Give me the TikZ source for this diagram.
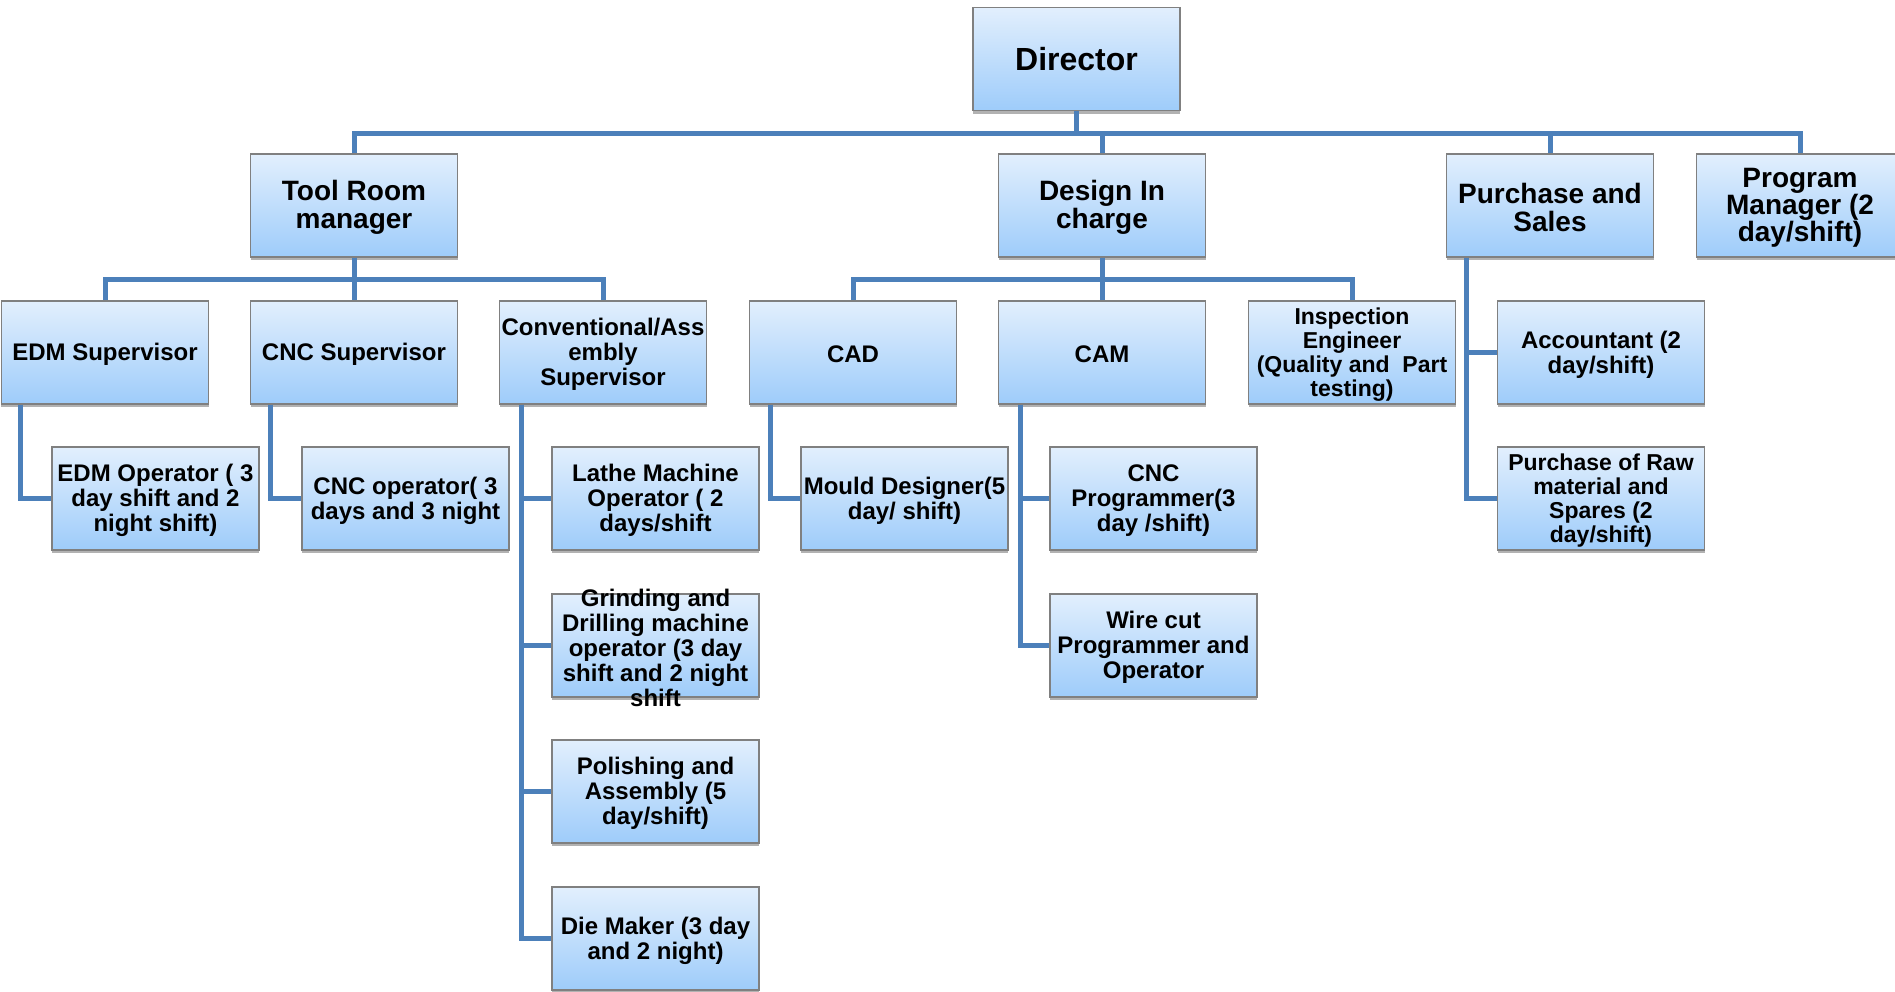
\documentclass[tikz,border=0pt]{standalone}
\usepackage{fontspec}
\setmainfont{Liberation Sans}
\usetikzlibrary{shadows,calc}
\definecolor{boxtop}{RGB}{226,239,253}
\definecolor{boxbot}{RGB}{158,204,250}
\definecolor{boxline}{RGB}{128,128,128}
\definecolor{conn}{RGB}{76,128,186}
\tikzset{
 orgbox/.style={draw=boxline, line width=1.2bp, top color=boxtop, bottom color=boxbot,
   minimum width=207bp, minimum height=103bp, inner sep=0pt,
   drop shadow={shadow xshift=0bp, shadow yshift=-3bp, opacity=0.3, fill=black}},
 txtbase/.style={align=center, inner sep=0pt, yshift=-2bp},
 txt/.style={txtbase, font=\bfseries\fontsize{24bp}{25bp}\selectfont},
 txts/.style={txtbase, font=\bfseries\fontsize{23bp}{24bp}\selectfont},
 txtl/.style={txtbase, font=\bfseries\fontsize{28bp}{28bp}\selectfont},
 txtp/.style={txtbase, font=\bfseries\fontsize{28bp}{25bp}\selectfont},
 txtd/.style={align=center, inner sep=0pt, font=\bfseries\fontsize{32bp}{32bp}\selectfont},
 link/.style={draw=conn, line width=5bp},
}
\newcommand\obox[5]{\node[orgbox] (#1) at (#2,#3) {}; \node[#5] (#1t) at (#1.center) {#4};}
\begin{document}
\begin{tikzpicture}[x=1bp,y=-1bp]
\useasboundingbox (0,0) rectangle (1895,991);
% level 0
\obox{dir}{1076.5}{59}{Director}{txtd}
% level 1
\obox{trm}{354}{205.5}{Tool Room\\manager}{txtl}
\obox{des}{1102}{205.5}{Design In\\charge}{txtl}
\obox{pur}{1550}{205.5}{Purchase and\\Sales}{txtl}
\obox{prg}{1800}{205.5}{Program\\Manager (2\\day/shift)}{txtp}
% level 2
\obox{edms}{105}{352.5}{EDM Supervisor}{txt}
\obox{cncs}{354}{352.5}{CNC Supervisor}{txt}
\obox{conv}{603}{352.5}{Conventional/Ass\\embly\\Supervisor}{txt}
\obox{cad}{853}{352.5}{CAD}{txt}
\obox{cam}{1102}{352.5}{CAM}{txt}
\obox{insp}{1352}{352.5}{Inspection\\Engineer\\(Quality and\ \ Part\\testing)}{txts}
\obox{acc}{1601}{352.5}{Accountant (2\\day/shift)}{txt}
% level 3
\obox{edmo}{155.5}{498.5}{EDM Operator ( 3\\day shift and 2\\night shift)}{txt}
\obox{cnco}{405.5}{498.5}{CNC operator( 3\\days and 3 night}{txt}
\obox{lathe}{655.5}{498.5}{Lathe Machine\\Operator ( 2\\days/shift}{txt}
\obox{mould}{904.5}{498.5}{Mould Designer(5\\day/ shift)}{txt}
\obox{cncp}{1153.5}{498.5}{CNC\\Programmer(3\\day /shift)}{txt}
\obox{raw}{1601}{498.5}{Purchase of Raw\\material and\\Spares (2\\day/shift)}{txts}
% lower levels
\obox{grind}{655.5}{645.5}{Grinding and\\Drilling machine\\operator (3 day\\shift and 2 night\\shift}{txt}
\obox{wire}{1153.5}{645.5}{Wire cut\\Programmer and\\Operator}{txt}
\obox{polish}{655.5}{791.5}{Polishing and\\Assembly (5\\day/shift)}{txt}
\obox{die}{655.5}{938.5}{Die Maker (3 day\\and 2 night)}{txt}
% connectors
\draw[link] (dir.south) -- ++(0,22) -| (trm.north);
\draw[link] (dir.south) -- ++(0,22) -| (des.north);
\draw[link] (dir.south) -- ++(0,22) -| (pur.north);
\draw[link] (dir.south) -- ++(0,22) -| (prg.north);
\draw[link] (trm.south) -- ++(0,22) -| (edms.north);
\draw[link] (trm.south) -- ++(0,22) -| (cncs.north);
\draw[link] (trm.south) -- ++(0,22) -| (conv.north);
\draw[link] (des.south) -- ++(0,22) -| (cad.north);
\draw[link] (des.south) -- ++(0,22) -| (cam.north);
\draw[link] (des.south) -- ++(0,22) -| (insp.north);
\draw[link] ($(edms.south west)+(20,0)$) |- (edmo.west);
\draw[link] ($(cncs.south west)+(21,0)$) |- (cnco.west);
\draw[link] ($(conv.south west)+(23,0)$) |- (lathe.west);
\draw[link] ($(conv.south west)+(23,0)$) |- (grind.west);
\draw[link] ($(conv.south west)+(23,0)$) |- (polish.west);
\draw[link] ($(conv.south west)+(23,0)$) |- (die.west);
\draw[link] ($(cad.south west)+(22,0)$) |- (mould.west);
\draw[link] ($(cam.south west)+(23,0)$) |- (cncp.west);
\draw[link] ($(cam.south west)+(23,0)$) |- (wire.west);
\draw[link] ($(pur.south west)+(21,0)$) |- (acc.west);
\draw[link] ($(pur.south west)+(21,0)$) |- (raw.west);
\end{tikzpicture}
\end{document}
